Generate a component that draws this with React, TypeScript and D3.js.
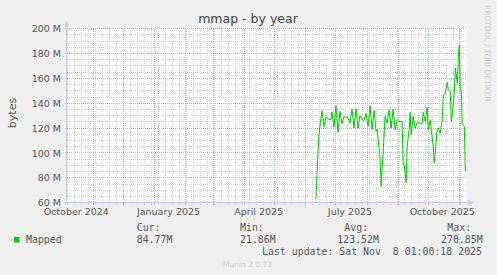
import React from "react";
import * as d3 from "d3";

const W = 497;
const H = 275;

// Daily "Mapped" bytes (in millions)
const dates = [
  "2025-06-11", "2025-06-12", "2025-06-14", "2025-06-17", "2025-06-19", "2025-06-21", "2025-06-24",
  "2025-06-26", "2025-06-27", "2025-06-29", "2025-07-01", "2025-07-03", "2025-07-05", "2025-07-07",
  "2025-07-09", "2025-07-11", "2025-07-13", "2025-07-15", "2025-07-17", "2025-07-19", "2025-07-21",
  "2025-07-23", "2025-07-25", "2025-07-27", "2025-07-29", "2025-07-31", "2025-08-02", "2025-08-04",
  "2025-08-06", "2025-08-08", "2025-08-10", "2025-08-11", "2025-08-12", "2025-08-14", "2025-08-15",
  "2025-08-17", "2025-08-19", "2025-08-21", "2025-08-23", "2025-08-25", "2025-08-27", "2025-08-29",
  "2025-08-31", "2025-09-02", "2025-09-05", "2025-09-06", "2025-09-07", "2025-09-09", "2025-09-10",
  "2025-09-12", "2025-09-13", "2025-09-14", "2025-09-16", "2025-09-18", "2025-09-20", "2025-09-22",
  "2025-09-25", "2025-09-26", "2025-09-28", "2025-09-30", "2025-10-01", "2025-10-03", "2025-10-04",
  "2025-10-06", "2025-10-07", "2025-10-08", "2025-10-10", "2025-10-11", "2025-10-13", "2025-10-15",
  "2025-10-16", "2025-10-18", "2025-10-20", "2025-10-21", "2025-10-23", "2025-10-24", "2025-10-25",
  "2025-10-27", "2025-10-28", "2025-10-30", "2025-10-31", "2025-11-01", "2025-11-02", "2025-11-03",
  "2025-11-04", "2025-11-06", "2025-11-07",
];
const mapped = [
  63, 82, 115, 134, 121, 129, 127,
  126.8, 133, 121, 138, 116.6, 133.5, 123.6,
  129, 129, 128, 124, 135.4, 120, 135.4,
  120, 130, 126.8, 126.2, 131.6, 121.4, 138,
  118.7, 134.3, 117.4, 119, 112, 95.2, 73,
  100, 129.5, 124, 134.8, 120, 135.4, 118.7,
  126.8, 125.4, 125.4, 90.6, 90.6, 76.3, 105.3,
  118.7, 132.7, 114.7, 129.5, 120, 124.5, 124,
  124, 132.7, 125.4, 136.7, 118.7, 126.8, 118.7,
  105.3, 92, 100, 119.2, 120, 116, 126.8,
  146, 148.3, 156.9, 151, 149.6, 125.4, 130.8,
  148.3, 168.4, 156.3, 176.8, 187, 151, 149.6,
  122.8, 121.4, 85.2,
];

const yTicks = [60, 80, 100, 120, 140, 160, 180, 200];
const xLabelMonths = ["2024-10-01", "2025-01-01", "2025-04-01", "2025-07-01", "2025-10-01"];
const seriesName = "Mapped";
const statLabels = ["Cur:", "Min:", "Avg:", "Max:"];
const statValues = ["84.77M", "21.86M", "123.52M", "270.85M"];
const lastUpdate = "Last update: Sat Nov  8 01:00:18 2025";

const parse = d3.utcParse("%Y-%m-%d");

export default function App() {
  const left = 66.7;
  const right = 467;
  const top = 28.7;
  const bottom = 202.7;

  // anchor scale on month boundaries, then derive domain for plot edges
  const anchor = d3
    .scaleUtc()
    .domain([new Date(Date.UTC(2024, 10, 1)), new Date(Date.UTC(2025, 10, 1))])
    .range([93.3, 459.3]);
  const x = d3.scaleUtc().domain([anchor.invert(left), anchor.invert(right)]).range([left, right]);
  const y = d3.scaleLinear().domain([60, 200]).range([bottom, top]);

  const px = (v: number) => Math.floor(v) + 0.5;

  const [d0, d1] = x.domain();
  const months = d3.utcMonth.range(d0, d1);
  const monthKeys = new Set(months.map((m) => +d3.utcDay.floor(m)));
  const weeks = d3.utcSunday.range(d0, d1).filter((w) => !monthKeys.has(+w));

  const majorY = d3.range(60, 201, 20);
  const minorY = d3.range(60, 201, 5).filter((v) => v % 20 !== 0);

  const data: [Date, number][] = dates.map((d, i) => [parse(d) as Date, mapped[i]]);
  const line = d3
    .line<[Date, number]>()
    .x((d) => x(d[0]))
    .y((d) => y(d[1]));

  const axisColor = "#c8c8f8";
  const minorColor = "#d4d4d4";
  const majorColor = "#f0a0a0";
  const textColor = "#555";
  const mono = "'DejaVu Sans Mono', monospace";
  const sans = "'DejaVu Sans', sans-serif";

  const labelX = [136.7, 240, 344.3, 447.3];
  const valueX = [136.7, 240, 337.3, 441];

  const X0 = px(left);
  const Y0 = px(bottom);

  return (
    <svg
      width={W}
      height={H}
      style={{ position: "absolute", left: 0, top: 0, display: "block" }}
      xmlns="http://www.w3.org/2000/svg"
    >
      <rect x={0} y={0} width={W} height={H} fill="#f0f0f0" />
      <rect x={left} y={top} width={right - left} height={bottom - top} fill="#ffffff" />

      {/* title */}
      <text x={248} y={22.8} textAnchor="middle" fontFamily={sans} fontSize={12.5} fill="#444">
        mmap - by year
      </text>

      {/* vertical watermark */}
      <text
        transform={`translate(484.5,5) rotate(90)`}
        fontFamily={sans}
        fontSize={7.5}
        fill="#cccccc"
      >
        RRDTOOL / TOBI OETIKER
      </text>

      {/* y axis title */}
      <text
        transform={`translate(15.5,113) rotate(-90)`}
        textAnchor="middle"
        fontFamily={sans}
        fontSize={11}
        fill={textColor}
      >
        bytes
      </text>

      {/* minor grid */}
      <g stroke={minorColor} strokeWidth={1} strokeDasharray="1,1" shapeRendering="crispEdges">
        {minorY.map((v) => (
          <line key={"my" + v} x1={X0} x2={right} y1={px(y(v))} y2={px(y(v))} />
        ))}
        {weeks.map((w) => (
          <line key={"mx" + +w} x1={px(x(w))} x2={px(x(w))} y1={top} y2={bottom} />
        ))}
      </g>
      <g stroke={minorColor} strokeWidth={1} shapeRendering="crispEdges">
        {minorY.map((v) => (
          <line key={"tmy" + v} x1={X0 - 2} x2={X0} y1={px(y(v))} y2={px(y(v))} />
        ))}
        {weeks.map((w) => (
          <line key={"tmx" + +w} x1={px(x(w))} x2={px(x(w))} y1={Y0} y2={Y0 + 2} />
        ))}
      </g>

      {/* major grid */}
      <g stroke={majorColor} strokeWidth={1} strokeDasharray="1,1" shapeRendering="crispEdges">
        {majorY.map((v) => (
          <line key={"My" + v} x1={X0} x2={right} y1={px(y(v))} y2={px(y(v))} />
        ))}
        {months.map((m) => (
          <line key={"Mx" + +m} x1={px(x(m))} x2={px(x(m))} y1={top} y2={bottom} />
        ))}
      </g>
      <g stroke={majorColor} strokeWidth={1} shapeRendering="crispEdges">
        {majorY.map((v) => (
          <line key={"tMy" + v} x1={X0 - 2} x2={X0} y1={px(y(v))} y2={px(y(v))} />
        ))}
        {months.map((m) => (
          <line key={"tMx" + +m} x1={px(x(m))} x2={px(x(m))} y1={Y0} y2={Y0 + 2} />
        ))}
      </g>

      {/* y labels */}
      {yTicks.map((v) => (
        <text
          key={"yl" + v}
          x={61}
          y={y(v) + 3.6}
          textAnchor="end"
          fontFamily={sans}
          fontSize={9.5}
          fill={textColor}
        >
          {v} M
        </text>
      ))}

      {/* x labels centred mid-month */}
      {xLabelMonths.map((s) => {
        const d = parse(s) as Date;
        const c = d3.utcDay.offset(d, 14);
        return (
          <text
            key={"xl" + s}
            x={x(c)}
            y={214.5}
            textAnchor="middle"
            fontFamily={sans}
            fontSize={9.5}
            fill={textColor}
          >
            {d3.utcFormat("%B %Y")(d)}
          </text>
        );
      })}

      {/* data */}
      <path d={line(data) || ""} fill="none" stroke="#00cc00" strokeWidth={1} />

      {/* axes */}
      <g stroke={axisColor} strokeWidth={1} shapeRendering="crispEdges">
        <line x1={X0} x2={X0} y1={Y0} y2={25} />
        <line x1={X0} x2={470} y1={Y0} y2={Y0} />
      </g>
      <path d={`M${X0},20.5 L${X0 - 2.8},26.5 L${X0 + 2.8},26.5 Z`} fill={axisColor} />
      <path d={`M473.5,${Y0} L467.5,${Y0 - 2.8} L467.5,${Y0 + 2.8} Z`} fill={axisColor} />

      {/* legend */}
      <rect x={14} y={237} width={5.5} height={5.5} fill="#00cc00" />
      <text x={26} y={243} fontFamily={mono} fontSize={9.9} fill={textColor}>
        {seriesName}
      </text>
      {statLabels.map((l, i) => (
        <text key={"sl" + i} x={labelX[i]} y={231} fontFamily={mono} fontSize={9.9} fill={textColor}>
          {l}
        </text>
      ))}
      {statValues.map((v, i) => (
        <text key={"sv" + i} x={valueX[i]} y={243} fontFamily={mono} fontSize={9.9} fill={textColor}>
          {v}
        </text>
      ))}
      <text
        x={482}
        y={255}
        textAnchor="end"
        fontFamily={mono}
        fontSize={9.9}
        fill={textColor}
        style={{ whiteSpace: "pre" }}
      >
        {lastUpdate}
      </text>

      <text x={223} y={267} fontFamily={sans} fontSize={7.5} fill="#cccccc">
        Munin 2.0.73
      </text>
    </svg>
  );
}
